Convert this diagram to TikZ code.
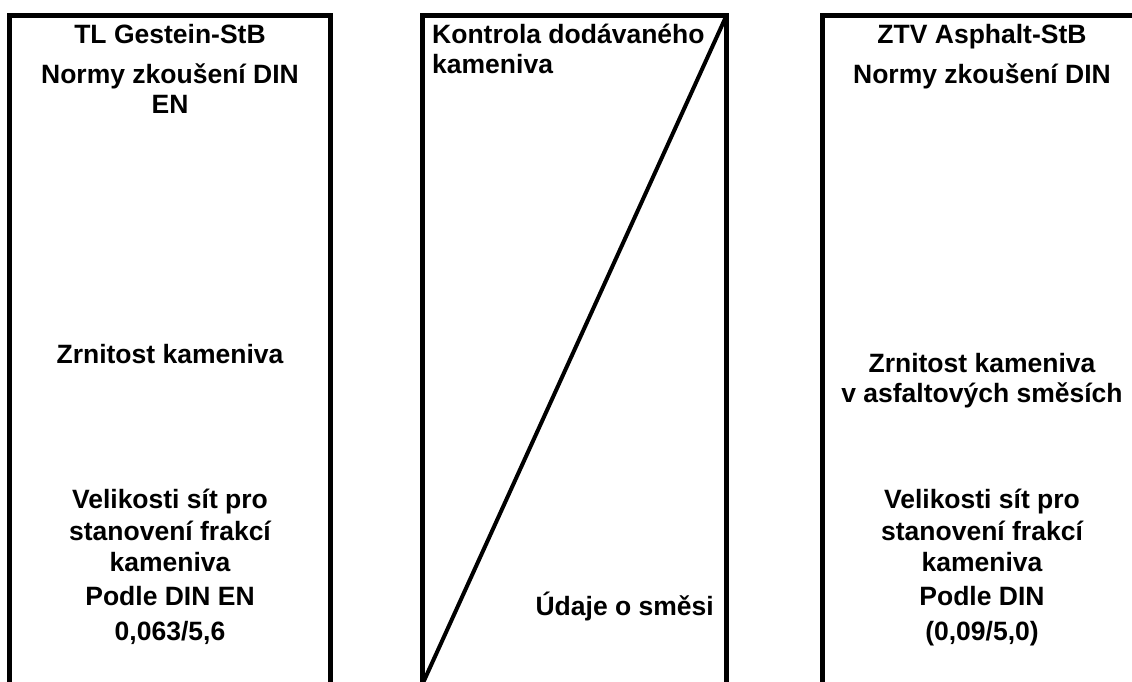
\documentclass[tikz,border=0pt]{standalone}
\usepackage{fontspec}
\setmainfont{Liberation Sans}
\begin{document}
\begin{tikzpicture}[x=1pt,y=-1pt,
  frame/.style={line width=5pt,line join=miter,black},
  txt/.style={font=\fontsize{26.5}{31}\bfseries\selectfont,inner sep=0pt,anchor=base},
  txtl/.style={txt,anchor=base west},
  txtr/.style={txt,anchor=base east}]
\useasboundingbox (0,0) rectangle (1132,682);
\clip (0,0) rectangle (1132,682);
% frames (open at the bottom)
\coordinate (Lbl) at (9.5,700);
\coordinate (Ltl) at (9.5,15.5);
\coordinate (Ltr) at (330.5,15.5);
\coordinate (Lbr) at (330.5,700);
\draw[frame] (Lbl) -- (Ltl) -- (Ltr) -- (Lbr);
\coordinate (Mbl) at (422.5,700);
\coordinate (Mtl) at (422.5,15.5);
\coordinate (Mtr) at (726.5,15.5);
\coordinate (Mbr) at (726.5,700);
\coordinate (Mdiag) at (422.5,684);
\draw[frame] (Mbl) -- (Mtl) -- (Mtr) -- (Mbr);
\draw[frame,line width=4pt] (Mtr) -- (Mdiag);
\coordinate (Rbl) at (822.5,700);
\coordinate (Rtl) at (822.5,15.5);
\coordinate (Rtr) at (1150,15.5);
\draw[frame] (Rbl) -- (Rtl) -- (Rtr);
% left column
\node[txt] (l1) at (170,44) {TL Gestein-StB};
\node[txt] (l2) at (170,84) {Normy zkoušení DIN};
\node[txt] (l3) at (170,114) {EN};
\node[txt] (l4) at (170,363) {Zrnitost kameniva};
\node[txt] (l5) at (170,508) {Velikosti sít pro};
\node[txt] (l6) at (170,540) {stanovení frakcí};
\node[txt] (l7) at (170,571) {kameniva};
\node[txt] (l8) at (170,605) {Podle DIN EN};
\node[txt] (l9) at (170,640) {0,063/5,6};
% middle column
\node[txtl] (m1) at (432,44) {Kontrola dodávaného};
\node[txtl] (m2) at (432,74) {kameniva};
\node[txtr] (m3) at (714,615) {Údaje o směsi};
% right column
\node[txt] (r1) at (982,44) {ZTV Asphalt-StB};
\node[txt] (r2) at (982,84) {Normy zkoušení DIN};
\node[txt] (r3) at (982,372) {Zrnitost kameniva};
\node[txt] (r4) at (982,402) {v asfaltových směsích};
\node[txt] (r5) at (982,508) {Velikosti sít pro};
\node[txt] (r6) at (982,540) {stanovení frakcí};
\node[txt] (r7) at (982,571) {kameniva};
\node[txt] (r8) at (982,605) {Podle DIN};
\node[txt] (r9) at (982,640) {(0,09/5,0)};
\end{tikzpicture}
\end{document}
